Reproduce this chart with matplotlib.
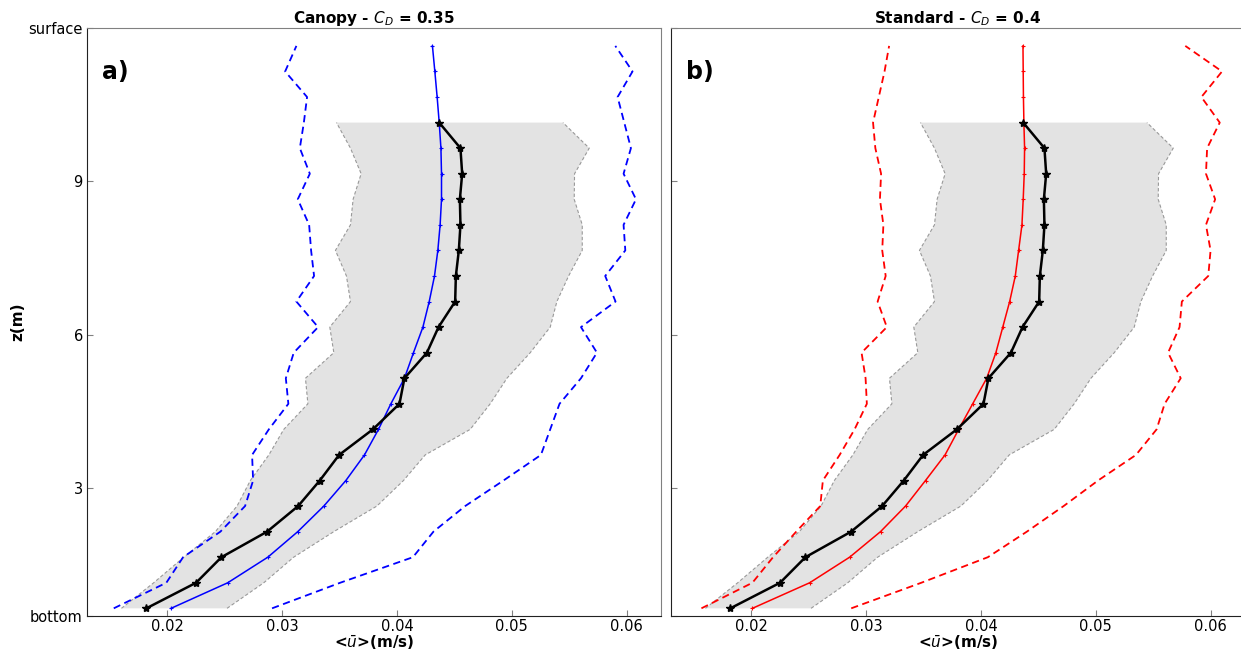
import numpy as np
import matplotlib
matplotlib.use("Agg")
import matplotlib.pyplot as plt

# vertical levels (obs up to 10.15 m, model up to 11.65 m)
z_obs = [0.65, 1.15, 1.65, 2.15, 2.65, 3.15, 3.65, 4.15, 4.65, 5.15,
         5.65, 6.15, 6.65, 7.15, 7.65, 8.15, 8.65, 9.15, 9.65, 10.15]
z_mod = z_obs + [10.65, 11.15, 11.65]

# observed mean velocity and its spread
u_obs = [0.01817, 0.0225, 0.02471, 0.02869, 0.03139, 0.03328, 0.03496, 0.03790, 0.04022, 0.04065,
         0.04261, 0.04362, 0.04507, 0.04513, 0.04539, 0.04553, 0.04548, 0.04568, 0.04553, 0.04368]
obs_lo = [0.01600, 0.01881, 0.02143, 0.02418, 0.02607, 0.02723, 0.02884, 0.03014, 0.03224, 0.03203,
          0.03450, 0.03415, 0.03595, 0.03560, 0.03464, 0.03595, 0.03618, 0.03688, 0.03595, 0.03473]
obs_hi = [0.02520, 0.02840, 0.03100, 0.03450, 0.03825, 0.04057, 0.04246, 0.04638, 0.04812, 0.04958,
          0.05161, 0.05335, 0.05393, 0.05495, 0.05614, 0.05614, 0.05544, 0.05547, 0.05675, 0.05446]

# canopy run (C_D = 0.35)
u_can = [0.02032, 0.02526, 0.02875, 0.03136, 0.03363, 0.03555, 0.03717, 0.03839, 0.03947, 0.04065,
         0.04144, 0.04226, 0.04281, 0.04327, 0.04356, 0.04376, 0.04388, 0.04388, 0.04383, 0.04368,
         0.04350, 0.04330, 0.04309]
can_lo = [0.01533, 0.01991, 0.02137, 0.02462, 0.02677, 0.02747, 0.02738, 0.02884, 0.03054, 0.03032,
          0.03101, 0.03313, 0.03124, 0.03278, 0.03252, 0.03235, 0.03136, 0.03241, 0.03154, 0.03189,
          0.03217, 0.03026, 0.03124]
can_hi = [0.02912, 0.03505, 0.04139, 0.04318, 0.04594, 0.04928, 0.05254, 0.05335, 0.05416, 0.05603,
          0.05742, 0.05603, 0.05904, 0.05814, 0.05989, 0.05974, 0.06082, 0.05974, 0.06038, 0.05980,
          0.05922, 0.06052, 0.05902]

# standard run (C_D = 0.4)
u_std = [0.02009, 0.02508, 0.02856, 0.03125, 0.03343, 0.03517, 0.03687, 0.03806, 0.03928, 0.04050,
         0.04130, 0.04190, 0.04250, 0.04299, 0.04328, 0.04357, 0.04368, 0.04377, 0.04380, 0.04374,
         0.04370, 0.04368, 0.04366]
std_lo = [0.01565, 0.02009, 0.02189, 0.02391, 0.02600, 0.02623, 0.02769, 0.02899, 0.03006, 0.02995,
          0.02960, 0.03180, 0.03100, 0.03170, 0.03140, 0.03150, 0.03120, 0.03130, 0.03080, 0.03060,
          0.03110, 0.03160, 0.03200]
std_hi = [0.02870, 0.03480, 0.04060, 0.04400, 0.04720, 0.05020, 0.05350, 0.05530, 0.05600, 0.05740,
          0.05630, 0.05730, 0.05750, 0.05980, 0.06000, 0.05960, 0.06040, 0.05960, 0.05970, 0.06080,
          0.05920, 0.06100, 0.05780]

panels = [
    ("a)", r"Canopy - $C_D$ = 0.35", u_can, can_lo, can_hi, "blue"),
    ("b)", r"Standard - $C_D$ = 0.4", u_std, std_lo, std_hi, "red"),
]

fig = plt.figure(figsize=(12.41, 6.54), dpi=100)
axes = [fig.add_axes([87 / 1241, 38 / 654, 574 / 1241, 588 / 654]),
        fig.add_axes([671 / 1241, 38 / 654, 574 / 1241, 588 / 654])]

for i, (ax, (tag, title, u_m, lo_m, hi_m, col)) in enumerate(zip(axes, panels)):
    ax.fill_betweenx(z_obs, obs_lo, obs_hi, facecolor="#e3e3e3", edgecolor="none", zorder=1)
    ax.plot(obs_lo, z_obs, color="#999999", lw=0.8, ls=(0, (3, 2)), zorder=2)
    ax.plot(obs_hi, z_obs, color="#999999", lw=0.8, ls=(0, (3, 2)), zorder=2)

    ax.plot(lo_m, z_mod, color=col, lw=1.3, ls=(0, (4, 2.5)), zorder=3)
    ax.plot(hi_m, z_mod, color=col, lw=1.3, ls=(0, (4, 2.5)), zorder=3)
    ax.plot(u_m, z_mod, color=col, lw=1.1, marker="+", ms=3, mew=0.8, zorder=4)

    ax.plot(u_obs, z_obs, color="black", lw=1.8, marker="*", ms=6, zorder=5)

    ax.set_xlim(0.0130, 0.0630)
    ax.set_ylim(0.5, 12)
    ax.set_xticks([0.02, 0.03, 0.04, 0.05, 0.06])
    ax.set_xticklabels(["0.02", "0.03", "0.04", "0.05", "0.06"])
    ax.set_yticks([0.5, 3, 6, 9, 12])
    if i == 0:
        ax.set_yticklabels(["bottom", "3", "6", "9", "surface"])
        ax.set_ylabel("z(m)", fontsize=11, fontweight="bold", labelpad=2)
    else:
        ax.set_yticklabels([])
    ax.tick_params(direction="in", length=4, width=0.8, color="#808080",
                   labelsize=10.5, pad=3)
    ax.tick_params(axis="x", pad=2)
    for side in ["top", "right"]:
        ax.spines[side].set_color("#808080")
    for side in ["left", "bottom"]:
        ax.spines[side].set_color("#222222")
    ax.set_xlabel(r"<$\bar{u}$>(m/s)", fontsize=11, fontweight="bold", labelpad=0)
    ax.set_title(title, fontsize=11, fontweight="bold", pad=3)
    ax.text(0.026, 0.945, tag, transform=ax.transAxes, fontsize=17,
            fontweight="bold", va="top", ha="left")

fig.savefig("out.png", dpi=100)
